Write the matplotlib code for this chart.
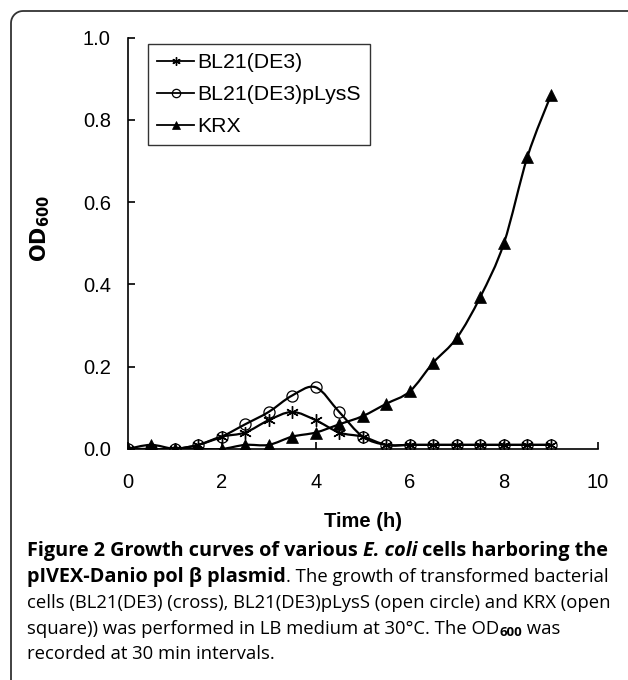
import numpy as np
import matplotlib
matplotlib.use("Agg")
import matplotlib.pyplot as plt
from matplotlib.path import Path
from matplotlib.patches import PathPatch
from matplotlib.lines import Line2D

time_h = [0, 0.5, 1, 1.5, 2, 2.5, 3, 3.5, 4, 4.5, 5, 5.5, 6, 6.5, 7, 7.5, 8, 8.5, 9]
bl21 = [0, 0.0, 0, 0.01, 0.03, 0.04, 0.07, 0.09, 0.07, 0.04, 0.03, 0.01, 0.01, 0.01, 0.01, 0.01, 0.01, 0.01, 0.01]
plyss = [0, 0.0, 0, 0.01, 0.03, 0.06, 0.09, 0.13, 0.15, 0.09, 0.03, 0.01, 0.01, 0.01, 0.01, 0.01, 0.01, 0.01, 0.01]
krx = [0, 0.01, 0, 0, 0, 0.01, 0.01, 0.03, 0.04, 0.06, 0.08, 0.11, 0.14, 0.21, 0.27, 0.37, 0.50, 0.71, 0.86]
series_names = ["BL21(DE3)", "BL21(DE3)pLysS", "KRX"]
x_ticks = [0, 2, 4, 6, 8, 10]
y_ticks = [0.0, 0.2, 0.4, 0.6, 0.8, 1.0]

plt.rcParams['font.family'] = ['Liberation Sans', 'DejaVu Sans']

fig = plt.figure(figsize=(6.28, 6.8), dpi=100)
ax = fig.add_axes([127.5 / 628, 1 - 449 / 680, (598 - 127.5) / 628, (449 - 37.5) / 680])


def smooth_path(xs, ys, t=1 / 6):
    xs = np.asarray(xs, float)
    ys = np.asarray(ys, float)
    n = len(xs)
    verts = [(xs[0], ys[0])]
    codes = [Path.MOVETO]
    for i in range(n - 1):
        p0 = np.array([xs[max(i - 1, 0)], ys[max(i - 1, 0)]])
        p1 = np.array([xs[i], ys[i]])
        p2 = np.array([xs[i + 1], ys[i + 1]])
        p3 = np.array([xs[min(i + 2, n - 1)], ys[min(i + 2, n - 1)]])
        c1 = p1 + (p2 - p0) * t
        c2 = p2 - (p3 - p1) * t
        verts += [tuple(c1), tuple(c2), tuple(p2)]
        codes += [Path.CURVE4] * 3
    return Path(verts, codes)


asterisk = (6, 2, 0)
styles = [
    dict(marker=asterisk, ms=9, mfc='black', mec='black', mew=1.0),
    dict(marker='o', ms=8, mfc='none', mec='black', mew=0.9),
    dict(marker='^', ms=8, mfc='black', mec='black', mew=0.5),
]
data = [bl21, plyss, krx]
handles = []
for name, ys, st in zip(series_names, data, styles):
    ax.add_patch(PathPatch(smooth_path(time_h, ys), fill=False, edgecolor='black', lw=1.6,
                           capstyle='round', joinstyle='round'))
    ax.plot(time_h, ys, linestyle='none', **st)
    hst = dict(st)
    hst['ms'] = 6
    handles.append(Line2D([], [], color='black', lw=1.3, **hst))

ax.set_xlim(0, 10)
ax.set_ylim(0, 1.0)
ax.set_xticks(x_ticks)
ax.set_yticks(y_ticks)
ax.set_xticklabels([str(v) for v in x_ticks])
ax.set_yticklabels([f"{v:.1f}" for v in y_ticks])
for s in ['top', 'right']:
    ax.spines[s].set_visible(False)
for s in ['left', 'bottom']:
    ax.spines[s].set_linewidth(1.2)
ax.tick_params(direction='in', length=5, width=1.2, labelsize=14.5)
ax.tick_params(axis='x', pad=17)
ax.tick_params(axis='y', pad=12)

ax.set_xlabel("Time (h)", fontsize=14.5, fontweight='bold', labelpad=15)
ax.set_ylabel(r"$\mathbf{OD_{600}}$", fontsize=15)
ax.yaxis.set_label_coords(-0.16, 0.537)

leg = ax.legend(handles, series_names, loc='upper left', bbox_to_anchor=(0.0436, 0.984),
                frameon=True, fancybox=False, edgecolor='black', fontsize=15.3,
                handlelength=1.75, handletextpad=0.15, labelspacing=0.62, borderpad=0.42,
                borderaxespad=0)
leg.get_frame().set_linewidth(1.0)

# caption
cap_font = ['Open Sans', 'DejaVu Sans']
fs_n = 13.3
fs_b = 14.3
lines_y = [551, 577, 603, 629, 654]
x0 = 27

fig.canvas.draw()
renderer = fig.canvas.get_renderer()


def put_line(y_px, pieces):
    x = x0
    for txt, kw in pieces:
        t = fig.text(x / 628, 1 - (y_px + kw.get('dy', 0)) / 680, txt, fontsize=kw['size'],
                     family=cap_font, fontweight=kw.get('weight', 'normal'),
                     fontstyle=kw.get('style', 'normal'), va='center', ha='left')
        bb = t.get_window_extent(renderer)
        x += bb.width


B = {'weight': 'bold', 'size': fs_b}
BI = {'weight': 'bold', 'style': 'italic', 'size': fs_b}
N = {'size': fs_n}
put_line(lines_y[0], [("Figure 2 Growth curves of various ", B), ("E. coli", BI),
                      (" cells harboring the", B)])
put_line(lines_y[1], [("pIVEX-Danio pol β plasmid", B), (". The growth of transformed bacterial", N)])
put_line(lines_y[2], [("cells (BL21(DE3) (cross), BL21(DE3)pLysS (open circle) and KRX (open", N)])
put_line(lines_y[3], [("square)) was performed in LB medium at 30°C. The OD", N),
                      ("600", {'weight': 'bold', 'size': 9.5, 'dy': 4}),
                      (" was", N)])
put_line(lines_y[4], [("recorded at 30 min intervals.", N)])

# rounded border (open at right and bottom)
r = 12
bx = [11, 11] + [11 + r - r * np.cos(a) for a in np.linspace(0, np.pi / 2, 10)] + [640]
by = [690, 11 + r] + [11 + r - r * np.sin(a) for a in np.linspace(0, np.pi / 2, 10)] + [11]
fig.add_artist(Line2D(np.array(bx) / 628, 1 - np.array(by) / 680, transform=fig.transFigure,
                      color='#333333', lw=1.3))

fig.savefig("out.png", dpi=100)
